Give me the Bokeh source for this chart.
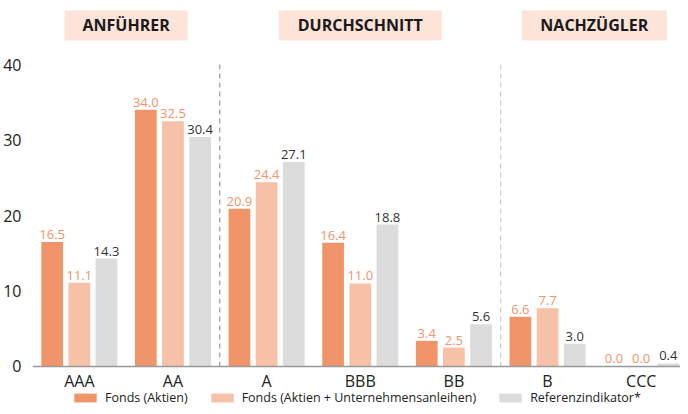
import numpy as np
from bokeh.plotting import figure
from bokeh.models import ColumnDataSource, Range1d, FixedTicker, Legend, LegendItem, LabelSet
from bokeh.transform import dodge
from bokeh.core.properties import value
from bokeh.embed import file_html
from bokeh.resources import INLINE

# ---- data ----
categories = ["AAA", "AA", "A", "BBB", "BB", "B", "CCC"]
fonds_aktien = [16.5, 34.0, 20.9, 16.4, 3.4, 6.6, 0.0]
fonds_mix = [11.1, 32.5, 24.4, 11.0, 2.5, 7.7, 0.0]
referenz = [14.3, 30.4, 27.1, 18.8, 5.6, 3.0, 0.4]
series_names = ["Fonds (Aktien)", "Fonds (Aktien + Unternehmensanleihen)", "Referenzindikator*"]
sections = ["ANFÜHRER", "DURCHSCHNITT", "NACHZÜGLER"]
section_start = [0, 2, 5]
section_end = [2, 5, 7]
y_ticks = [0, 10, 20, 30, 40]

# ---- style ----
FONT = "Open Sans"
C_AKT = "#F0956A"
C_MIX = "#F6C1A6"
C_REF = "#DCDCDC"
C_HEAD = "#FDE3D8"
OFF = 0.29
BAR_W = 0.232
HEADER_Y = 45.17
HEADER_W = [123, 163, 145]

xs = np.arange(len(categories)) + 0.5
src = ColumnDataSource(dict(
    x=xs, akt=fonds_aktien, mix=fonds_mix, ref=referenz,
    akt_t=[f"{v:.1f}" for v in fonds_aktien],
    mix_t=[f"{v:.1f}" for v in fonds_mix],
    ref_t=[f"{v:.1f}" for v in referenz],
))

p = figure(width=680, height=406, x_range=Range1d(0, 6.92), y_range=Range1d(-5.30, 48.48),
           output_backend="svg", toolbar_location=None,
           min_border_left=32, min_border_right=0, min_border_top=0, min_border_bottom=0)
p.outline_line_color = None
p.grid.visible = False
p.background_fill_color = "white"

# section headers
centers = [(a + b) / 2 for a, b in zip(section_start, section_end)]
p.rect(x=centers, y=HEADER_Y, width=HEADER_W, width_units="screen", height=30, height_units="screen",
       fill_color=C_HEAD, line_color=None)
p.text(x=centers, y=HEADER_Y, text=sections, text_align="center", text_baseline="middle",
       text_font=value(FONT), text_font_style="bold", text_font_size="16px", text_color="#1a1a1a")

# dividers
div_x = section_end[:-1]
p.segment(x0=div_x, y0=0, x1=div_x, y1=y_ticks[-1], line_dash="5 4", line_width=1.2,
          line_color=["#999999", "#cccccc"])

# bars
r1 = p.vbar(x=dodge("x", -OFF), top="akt", width=BAR_W, source=src, fill_color=C_AKT, line_color=None)
r2 = p.vbar(x=dodge("x", 0), top="mix", width=BAR_W, source=src, fill_color=C_MIX, line_color=None)
r3 = p.vbar(x=dodge("x", OFF), top="ref", width=BAR_W, source=src, fill_color=C_REF, line_color=None)

# value labels
for col, txt, off, color in [("akt", "akt_t", -OFF, C_AKT),
                             ("mix", "mix_t", 0, C_AKT),
                             ("ref", "ref_t", OFF, "#333333")]:
    lab = LabelSet(x=dodge("x", off), y=col, text=txt, source=src, text_align="center",
                   text_baseline="bottom", y_offset=3, text_font=value(FONT),
                   text_font_size="13px", text_color=color)
    p.add_layout(lab)

# axes
xa = p.xaxis[0]
xa.fixed_location = 0
xa.ticker = FixedTicker(ticks=list(xs))
xa.major_label_overrides = {float(x): c for x, c in zip(xs, categories)}
xa.major_tick_line_color = None
xa.minor_tick_line_color = None
xa.axis_line_color = "#999999"
xa.axis_line_width = 1.5
xa.major_label_text_font = FONT
xa.major_label_text_font_size = "16px"
xa.major_label_text_color = "#222222"
xa.major_label_standoff = -2

ya = p.yaxis[0]
ya.ticker = FixedTicker(ticks=y_ticks)
ya.axis_line_color = None
ya.major_tick_line_color = None
ya.minor_tick_line_color = None
ya.major_label_text_font = FONT
ya.major_label_text_font_size = "16px"
ya.major_label_text_color = "#222222"
ya.major_label_standoff = 5

legend = Legend(items=[LegendItem(label=series_names[0], renderers=[r1]),
                       LegendItem(label=series_names[1], renderers=[r2]),
                       LegendItem(label=series_names[2], renderers=[r3])],
                location=(39, 0), orientation="horizontal",
                glyph_width=28, glyph_height=11, label_height=11, label_standoff=6, spacing=20,
                padding=0, margin=0, border_line_color=None, background_fill_alpha=0,
                label_text_font=FONT, label_text_font_size="12.5px", label_text_color="#222222")
p.add_layout(legend)

open("out.html", "w").write(file_html(p, INLINE))
